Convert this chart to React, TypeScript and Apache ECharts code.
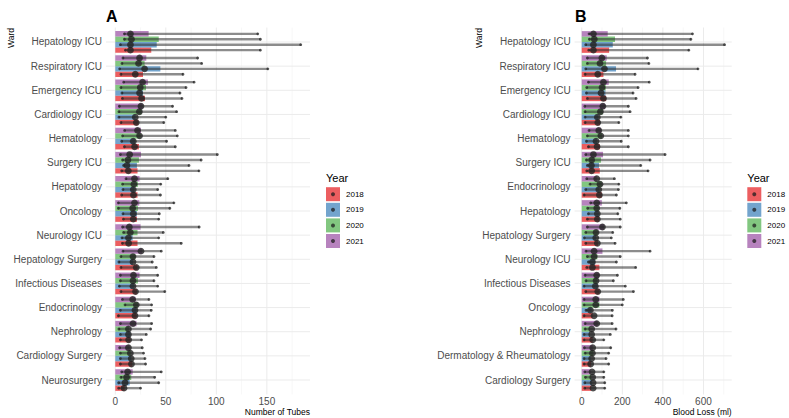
import React, { useEffect, useRef } from "react";
import * as echarts from "echarts";

const FONT = "'Liberation Sans', Arial, Helvetica, sans-serif";

const YEARS = ["2018", "2019", "2020", "2021"];
const YEAR_COLORS = [
  "rgba(228,26,28,0.7)",
  "rgba(55,126,184,0.7)",
  "rgba(77,175,74,0.7)",
  "rgba(152,78,163,0.7)",
];

// ---------- Panel A: Number of Tubes ----------
const wardsTubes = [
  "Hepatology ICU", "Respiratory ICU", "Emergency ICU", "Cardiology ICU", "Hematology",
  "Surgery ICU", "Hepatology", "Oncology", "Neurology ICU", "Hepatology Surgery",
  "Infectious Diseases", "Endocrinology", "Nephrology", "Cardiology Surgery", "Neurosurgery",
];
const tubesBar2018 = [35.6, 27.4, 29.4, 22.8, 23.4, 22, 22, 21.4, 22, 22, 21.4, 21, 14.9, 16.8, 9.2];
const tubesMed2018 = [15, 19.8, 26, 20.8, 19.1, 12.9, 18, 17.8, 13.2, 20.8, 20, 19.5, 13.2, 16, 8.6];
const tubesLo2018 = [10, 5.6, 7, 5.6, 9, 6.3, 6.3, 8, 7, 5.6, 5.6, 3, 5, 5, 3.3];
const tubesHi2018 = [143.6, 67, 66, 48, 59.4, 82.8, 44.7, 43, 65.3, 40.6, 49, 33.3, 26, 30, 25];

const tubesBar2019 = [41, 44.6, 27.4, 20, 19.5, 21.4, 19, 21.4, 17.2, 17.5, 18.8, 21, 14.9, 15.8, 14.2];
const tubesMed2019 = [15, 29, 24, 19.8, 17.8, 11.5, 17.8, 17.8, 13, 17.5, 17.5, 19.5, 13, 15.8, 9.6];
const tubesLo2019 = [5, 4.3, 6.6, 3.6, 6.3, 8.2, 7.6, 7.6, 6.6, 3.6, 4, 5, 5, 5, 3.3];
const tubesHi2019 = [183.5, 151, 64, 50, 50.8, 73, 42, 43.6, 43, 36.6, 42, 35.6, 30.7, 29.4, 43];

const tubesBar2020 = [43, 29, 30.4, 26, 25, 23.4, 22.4, 22.4, 22, 19.8, 22.4, 22.4, 13.5, 15.2, 15.8];
const tubesMed2020 = [16, 23, 24.7, 23.8, 24, 12.5, 18.4, 17.2, 14.9, 17.5, 17.5, 20.8, 13, 14.9, 11.2];
const tubesLo2020 = [9, 6.6, 5.6, 3.6, 7.2, 7.2, 7.2, 3, 8.2, 5.6, 5, 9.6, 3.6, 5, 5.6];
const tubesHi2020 = [143.6, 85.5, 70, 60.7, 61.4, 85, 45, 54, 47.5, 38.3, 38.3, 36, 35, 28, 39];

const tubesBar2021 = [33, 30.7, 32.3, 27, 25.4, 25.4, 24, 23.8, 25, 26.7, 24, 20, 21, 14.2, 17.2];
const tubesMed2021 = [15, 24, 27, 25.4, 22, 14.2, 19, 19, 13.9, 25.4, 18, 17.2, 17.5, 13, 12.2];
const tubesLo2021 = [9, 7.6, 8.3, 4, 9.2, 5, 10.6, 3, 7.2, 7.6, 5, 7, 5, 4.3, 6.3];
const tubesHi2021 = [141, 81.5, 78, 56.7, 59.4, 101, 52, 58, 83, 45.5, 42, 33.3, 36, 26.7, 45.5];

const tubesTicks = [0, 50, 100, 150];
const tubesMinor = [25, 75, 125, 175];

// ---------- Panel B: Blood Loss ----------
const wardsBlood = [
  "Hepatology ICU", "Respiratory ICU", "Emergency ICU", "Cardiology ICU", "Hematology",
  "Surgery ICU", "Endocrinology", "Hepatology", "Hepatology Surgery", "Neurology ICU",
  "Infectious Diseases", "Oncology", "Nephrology", "Dermatology & Rheumatology", "Cardiology Surgery",
];
const bloodBar2018 = [135, 107, 120, 90, 89, 89, 99, 85, 80.6, 87, 87, 54, 54, 46, 47];
const bloodMed2018 = [57.6, 79, 107, 79, 75.6, 49, 87, 77, 77, 52.6, 79, 61, 54, 44, 56];
const bloodLo2018 = [34.4, 16.5, 27.5, 16.5, 32.8, 24.5, 11.5, 27.5, 19.7, 24.5, 19.7, 11.5, 11.5, 11.5, 15];
const bloodHi2018 = [528, 263, 268, 183, 230, 327, 171, 190, 164.5, 266, 255, 150, 109, 133, 113.6];

const bloodBar2019 = [153, 169, 117, 82, 75.6, 85, 87, 84, 70.6, 66, 79, 49, 41, 44, 51];
const bloodMed2019 = [57.6, 112, 95, 77, 70.6, 47.6, 84, 77, 69, 52.6, 67, 42.6, 49, 49, 56];
const bloodLo2019 = [19.7, 19.7, 23, 16.5, 23, 27.5, 19.7, 32.8, 13, 32.8, 11.5, 21, 11.5, 11.5, 15];
const bloodHi2019 = [704, 573, 253, 193, 195, 291, 181, 178, 146, 171, 215, 151, 141, 120, 113.6];

const bloodBar2020 = [164, 120, 118.5, 104, 100, 95, 99, 84, 79, 77, 77, 87, 41, 57, 47];
const bloodMed2020 = [62, 90, 100, 92, 94, 49, 90, 74, 70.6, 61, 70.6, 69, 49, 52.6, 54];
const bloodLo2020 = [37.6, 27.5, 24.5, 16.5, 27.5, 23, 41, 29, 19.7, 27.5, 21, 11.5, 16.5, 16.5, 18];
const bloodHi2020 = [538, 331, 278, 238.5, 230, 337, 183, 188, 153, 190, 156, 200, 169, 133, 109];

const bloodBar2021 = [128, 123, 133, 115, 95, 105, 74, 99, 110, 102, 85, 87, 79, 54, 44];
const bloodMed2021 = [57.6, 99, 107, 104, 84, 57.6, 74, 74, 102, 61, 74, 69, 74, 54, 51];
const bloodLo2021 = [36, 27.5, 32.8, 15, 36, 19.7, 24.5, 44, 27.5, 21, 16.5, 11.5, 16.5, 13, 15];
const bloodHi2021 = [546, 324, 333, 230, 230, 411, 161, 220, 190, 337, 176, 205, 150, 143, 109];

const bloodTicks = [0, 200, 400, 600];
const bloodMinor = [100, 300, 500, 700];

// dodge offsets (inverse y axis: larger = lower on screen); 2018 bottom, 2021 top
const OFFSETS = [0.3375, 0.1125, -0.1125, -0.3375];
const BAR_W = 0.225;

type Panel = {
  wards: string[];
  bar: number[][];
  med: number[][];
  lo: number[][];
  hi: number[][];
  ticks: number[];
  minor: number[];
  xmin: number;
  xmax: number;
  left: number;
  width: number;
};

const panels: Panel[] = [
  {
    wards: wardsTubes,
    bar: [tubesBar2018, tubesBar2019, tubesBar2020, tubesBar2021],
    med: [tubesMed2018, tubesMed2019, tubesMed2020, tubesMed2021],
    lo: [tubesLo2018, tubesLo2019, tubesLo2020, tubesLo2021],
    hi: [tubesHi2018, tubesHi2019, tubesHi2020, tubesHi2021],
    ticks: tubesTicks,
    minor: tubesMinor,
    xmin: -9.2,
    xmax: 192.7,
    left: 106,
    width: 204,
  },
  {
    wards: wardsBlood,
    bar: [bloodBar2018, bloodBar2019, bloodBar2020, bloodBar2021],
    med: [bloodMed2018, bloodMed2019, bloodMed2020, bloodMed2021],
    lo: [bloodLo2018, bloodLo2019, bloodLo2020, bloodLo2021],
    hi: [bloodHi2018, bloodHi2019, bloodHi2020, bloodHi2021],
    ticks: bloodTicks,
    minor: bloodMinor,
    xmin: -35.2,
    xmax: 739.2,
    left: 574.6,
    width: 157.1,
  },
];

const GRID_TOP = 27.5;
const GRID_H = 367;

function buildOption() {
  const grids: any[] = [];
  const xAxes: any[] = [];
  const yAxes: any[] = [];
  const series: any[] = [];

  panels.forEach((p, gi) => {
    grids.push({ left: p.left, top: GRID_TOP, width: p.width, height: GRID_H, containLabel: false });
    xAxes.push({
      type: "value",
      gridIndex: gi,
      min: p.xmin,
      max: p.xmax,
      axisLine: { show: false },
      axisTick: { show: false },
      splitLine: { show: false },
      axisLabel: {
        customValues: p.ticks,
        fontSize: 10,
        color: "#4D4D4D",
        fontFamily: FONT,
        margin: 2,
      },
    });
    const wards = p.wards;
    yAxes.push({
      type: "value",
      gridIndex: gi,
      inverse: true,
      min: 0.4,
      max: 15.6,
      axisLine: { show: false },
      axisTick: { show: false },
      splitLine: { show: false },
      axisLabel: {
        customValues: wards.map((_, i) => i + 1),
        formatter: (v: number) => {
          const r = Math.round(v);
          return Math.abs(r - v) < 1e-6 && wards[r - 1] ? wards[r - 1] : "";
        },
        fontSize: 10,
        color: "#4D4D4D",
        fontFamily: FONT,
        margin: 4,
      },
    });

    // grid lines
    const gridData: number[][] = [
      ...p.ticks.map((v) => [v, 0]),
      ...p.minor.map((v) => [v, 1]),
      ...wards.map((_, i) => [i + 1, 2]),
    ];
    series.push({
      type: "custom",
      xAxisIndex: gi,
      yAxisIndex: gi,
      z: 0,
      silent: true,
      data: gridData,
      encode: { x: 0, y: 1 },
      renderItem: (params: any, api: any) => {
        const cs = params.coordSys;
        const v = api.value(0);
        const k = api.value(1);
        if (k === 2) {
          const y = api.coord([0, v])[1];
          return {
            type: "line",
            shape: { x1: cs.x, y1: y, x2: cs.x + cs.width, y2: y },
            style: { stroke: "#EBEBEB", lineWidth: 1 },
          };
        }
        const x = api.coord([v, 1])[0];
        return {
          type: "line",
          shape: { x1: x, y1: cs.y, x2: x, y2: cs.y + cs.height },
          style: { stroke: k === 0 ? "#EBEBEB" : "#F2F2F2", lineWidth: k === 0 ? 1 : 0.6 },
        };
      },
    });

    // bars
    YEARS.forEach((yr, yi) => {
      const data = wards.map((_, i) => [i, yi, p.bar[yi][i], p.med[yi][i], p.lo[yi][i], p.hi[yi][i]]);
      series.push({
        type: "custom",
        name: yr,
        xAxisIndex: gi,
        yAxisIndex: gi,
        z: 2,
        data,
        encode: { x: 2, y: 0 },
        renderItem: (params: any, api: any) => {
          const w = api.value(0);
          const yIdx = api.value(1);
          const v = api.value(2);
          const yc = w + 1 + OFFSETS[yIdx];
          const p0 = api.coord([0, yc]);
          const p1 = api.coord([v, yc]);
          const h = Math.abs(api.size([0, BAR_W])[1]);
          return {
            type: "rect",
            shape: { x: p0[0], y: p0[1] - h / 2, width: p1[0] - p0[0], height: h },
            style: { fill: YEAR_COLORS[yIdx] },
          };
        },
      });
    });

    // error bars and medians
    YEARS.forEach((yr, yi) => {
      const data = wards.map((_, i) => [i, yi, p.bar[yi][i], p.med[yi][i], p.lo[yi][i], p.hi[yi][i]]);
      series.push({
        type: "custom",
        name: yr + " range",
        xAxisIndex: gi,
        yAxisIndex: gi,
        z: 3,
        data,
        encode: { x: 4, y: 0 },
        renderItem: (params: any, api: any) => {
          const w = api.value(0);
          const yIdx = api.value(1);
          const yc = w + 1 + OFFSETS[yIdx];
          const pm = api.coord([api.value(3), yc]);
          const pl = api.coord([api.value(4), yc]);
          const ph = api.coord([api.value(5), yc]);
          return {
            type: "group",
            children: [
              {
                type: "line",
                shape: { x1: pl[0], y1: pl[1], x2: ph[0], y2: ph[1] },
                style: { stroke: "rgba(45,45,45,0.55)", lineWidth: 2.4 },
              },
              { type: "circle", shape: { cx: pl[0], cy: pl[1], r: 1.4 }, style: { fill: "rgba(30,30,30,0.75)" } },
              { type: "circle", shape: { cx: ph[0], cy: ph[1], r: 1.4 }, style: { fill: "rgba(30,30,30,0.75)" } },
              { type: "circle", shape: { cx: pm[0], cy: pm[1], r: 3.4 }, style: { fill: "rgba(35,35,35,0.8)" } },
            ],
          };
        },
      });
    });
  });

  const graphic: any[] = [
    { type: "text", left: 106, top: 8, style: { text: "A", font: `bold 16px ${FONT}`, fill: "#000" } },
    { type: "text", left: 575, top: 8, style: { text: "B", font: `bold 16px ${FONT}`, fill: "#000" } },
    {
      type: "text", x: 11, y: 28, rotation: Math.PI / 2,
      style: { text: "Ward", font: `8.5px ${FONT}`, fill: "#000", align: "right", verticalAlign: "middle" },
    },
    {
      type: "text", x: 479, y: 28, rotation: Math.PI / 2,
      style: { text: "Ward", font: `8.5px ${FONT}`, fill: "#000", align: "right", verticalAlign: "middle" },
    },
    {
      type: "text", x: 310, y: 412,
      style: { text: "Number of Tubes", font: `8.5px ${FONT}`, fill: "#000", align: "right", verticalAlign: "middle" },
    },
    {
      type: "text", x: 731.7, y: 412,
      style: { text: "Blood Loss (ml)", font: `8.5px ${FONT}`, fill: "#000", align: "right", verticalAlign: "middle" },
    },
  ];

  const legendX = [326, 747.3];
  legendX.forEach((lx) => {
    graphic.push({
      type: "text", x: lx, y: 178,
      style: { text: "Year", font: `11px ${FONT}`, fill: "#000", align: "left", verticalAlign: "middle" },
    });
    YEARS.forEach((yr, yi) => {
      const top = 187.2 + yi * 15.6;
      graphic.push({ type: "rect", shape: { x: lx, y: top, width: 14, height: 14 }, style: { fill: YEAR_COLORS[yi] } });
      graphic.push({ type: "circle", shape: { cx: lx + 7, cy: top + 7, r: 2 }, style: { fill: "rgba(30,30,30,0.75)" } });
      graphic.push({
        type: "text", x: lx + 20, y: top + 7,
        style: { text: yr, font: `8px ${FONT}`, fill: "#000", align: "left", verticalAlign: "middle" },
      });
    });
  });

  return {
    animation: false,
    backgroundColor: "#ffffff",
    grid: grids,
    xAxis: xAxes,
    yAxis: yAxes,
    series,
    graphic,
  };
}

export default function App() {
  const ref = useRef<HTMLDivElement>(null);
  useEffect(() => {
    if (!ref.current) return;
    const chart = echarts.init(ref.current, undefined, { renderer: "svg" });
    chart.setOption(buildOption() as any);
    return () => chart.dispose();
  }, []);
  return (
    <div
      ref={ref}
      style={{ position: "absolute", left: 0, top: 0, width: 789, height: 418, background: "#fff" }}
    />
  );
}
